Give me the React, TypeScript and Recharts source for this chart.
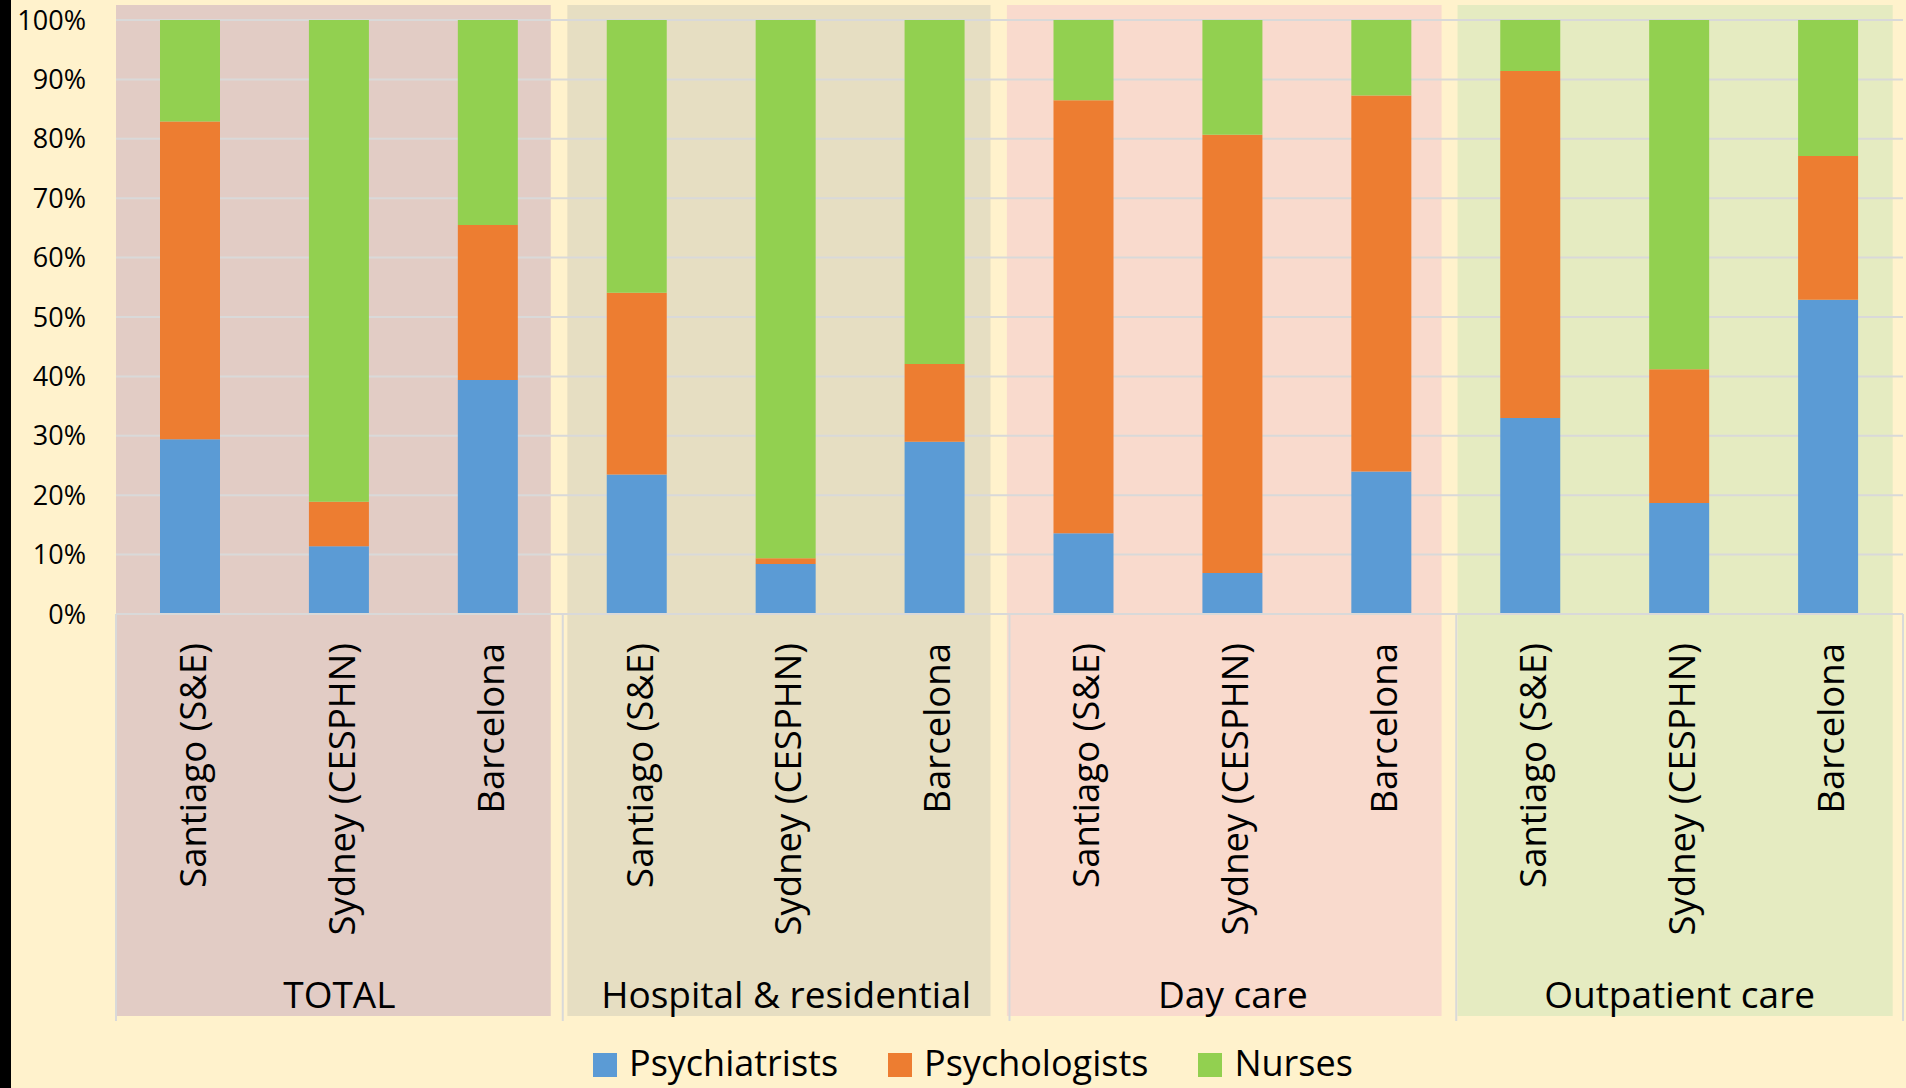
import React from 'react';
import { BarChart, Bar, XAxis, YAxis, CartesianGrid, ReferenceArea, Legend } from 'recharts';

const groups = ['TOTAL', 'Hospital & residential', 'Day care', 'Outpatient care'];
const cities = ['Santiago (S&E)', 'Sydney (CESPHN)', 'Barcelona'];

// percentages per group (rows) and city (columns)
const psychiatrists = [
  [29.4, 11.4, 39.4],
  [23.5, 8.4, 29.0],
  [13.6, 6.9, 24.0],
  [33.0, 18.7, 52.9],
];
const psychologists = [
  [53.5, 7.5, 26.1],
  [30.6, 1.0, 13.1],
  [72.9, 73.8, 63.3],
  [58.4, 22.5, 24.2],
];
const nurses = [
  [17.1, 81.1, 34.5],
  [45.9, 90.6, 57.9],
  [13.5, 19.3, 12.7],
  [8.6, 58.8, 22.9],
];
const yTicks = [0, 10, 20, 30, 40, 50, 60, 70, 80, 90, 100];

const seriesNames = ['Psychiatrists', 'Psychologists', 'Nurses'];
const seriesKeys = ['psychiatrists', 'psychologists', 'nurses'];
const seriesColors = ['#5B9BD5', '#ED7D31', '#92D050'];

const panelFills = ['#E2CCC5', '#E6DEC2', '#F9DACD', '#E5EBC1'];
const panelInsets = [
  [0, 12],
  [4.6, 19],
  [-2.6, 14.7],
  [1.3, 10.3],
];

const FONT = "'Open Sans', sans-serif";
const GRID = '#D9D9D9';

const data = groups.flatMap((g, gi) =>
  cities.map((c, ci) => ({
    key: `${g}|${c}`,
    group: g,
    city: c,
    psychiatrists: psychiatrists[gi][ci],
    psychologists: psychologists[gi][ci],
    nurses: nurses[gi][ci],
  }))
);

const CityTick = (props: any) => {
  const { x, y, payload } = props;
  const label = String(payload.value).split('|')[1];
  return (
    <text
      x={x}
      y={y}
      transform={`rotate(-90, ${x}, ${y})`}
      textAnchor="end"
      dy="0.42em"
      fontSize={36.5}
      fontFamily={FONT}
      fill="#000"
    >
      {label}
    </text>
  );
};

const makePanel = (gi: number) => (props: any) => {
  const { x, y, width, height } = props;
  const [il, ir] = panelInsets[gi];
  const bottom = y + height;
  return (
    <g>
      <rect
        x={x + il}
        y={y - 15}
        width={width - il - ir}
        height={height + 417}
        fill={panelFills[gi]}
      />
      <line x1={x} x2={x} y1={bottom} y2={bottom + 407} stroke={GRID} strokeWidth={2} />
      {gi === groups.length - 1 && (
        <line
          x1={x + width}
          x2={x + width}
          y1={bottom}
          y2={bottom + 407}
          stroke={GRID}
          strokeWidth={2}
        />
      )}
      <text
        x={x + width / 2}
        y={bottom + 394}
        textAnchor="middle"
        fontSize={37}
        fontFamily={FONT}
        fill="#000"
      >
        {groups[gi]}
      </text>
    </g>
  );
};

const renderLegend = () => (
  <div
    style={{
      display: 'flex',
      alignItems: 'center',
      fontFamily: FONT,
      fontSize: 36,
      lineHeight: '36px',
      color: '#000',
      whiteSpace: 'nowrap',
    }}
  >
    {seriesNames.map((n, i) => (
      <div
        key={n}
        style={{ display: 'flex', alignItems: 'center', marginRight: i < seriesNames.length - 1 ? 50 : 0 }}
      >
        <span
          style={{
            display: 'inline-block',
            width: 24,
            height: 24,
            background: seriesColors[i],
            marginRight: 12,
            marginTop: 4,
          }}
        />
        <span style={{ display: 'inline-block' }}>{n}</span>
      </div>
    ))}
  </div>
);

export default function App() {
  return (
    <div
      style={{
        position: 'absolute',
        left: 0,
        top: 0,
        width: 1906,
        height: 1088,
        background: '#FFF2CC',
        overflow: 'hidden',
      }}
    >
      <BarChart
        width={1906}
        height={1088}
        data={data}
        margin={{ top: 20, right: 3, bottom: 0, left: 0 }}
        barSize={60}
      >
        {groups.map((g, gi) => (
          <ReferenceArea
            key={g}
            x1={`${g}|${cities[0]}`}
            x2={`${g}|${cities[cities.length - 1]}`}
            y1={0}
            y2={100}
            ifOverflow="visible"
            zIndex={-200}
            shape={makePanel(gi)}
          />
        ))}
        <CartesianGrid vertical={false} stroke={GRID} strokeWidth={2} />
        <XAxis
          dataKey="key"
          height={474}
          interval={0}
          tickLine={false}
          tickSize={0}
          tickMargin={29}
          axisLine={{ stroke: GRID, strokeWidth: 2 }}
          tick={<CityTick />}
        />
        <YAxis
          width={116}
          domain={[0, 100]}
          ticks={yTicks}
          interval={0}
          tickLine={false}
          axisLine={false}
          tickSize={0}
          tickMargin={30}
          tickFormatter={(v: number) => `${v}%`}
          tick={{ fill: '#000', fontSize: 27, fontFamily: FONT }}
        />
        {seriesKeys.map((k, i) => (
          <Bar
            key={k}
            dataKey={k}
            name={seriesNames[i]}
            stackId="a"
            fill={seriesColors[i]}
            isAnimationActive={false}
          />
        ))}
        <Legend
          layout="horizontal"
          verticalAlign="middle"
          align="center"
          wrapperStyle={{ top: 1045, left: 593, width: 900, height: 36, overflow: 'visible' }}
          content={renderLegend}
        />
      </BarChart>
      <div
        style={{ position: 'absolute', left: 0, top: 0, width: 11, height: 1088, background: '#000' }}
      />
    </div>
  );
}
